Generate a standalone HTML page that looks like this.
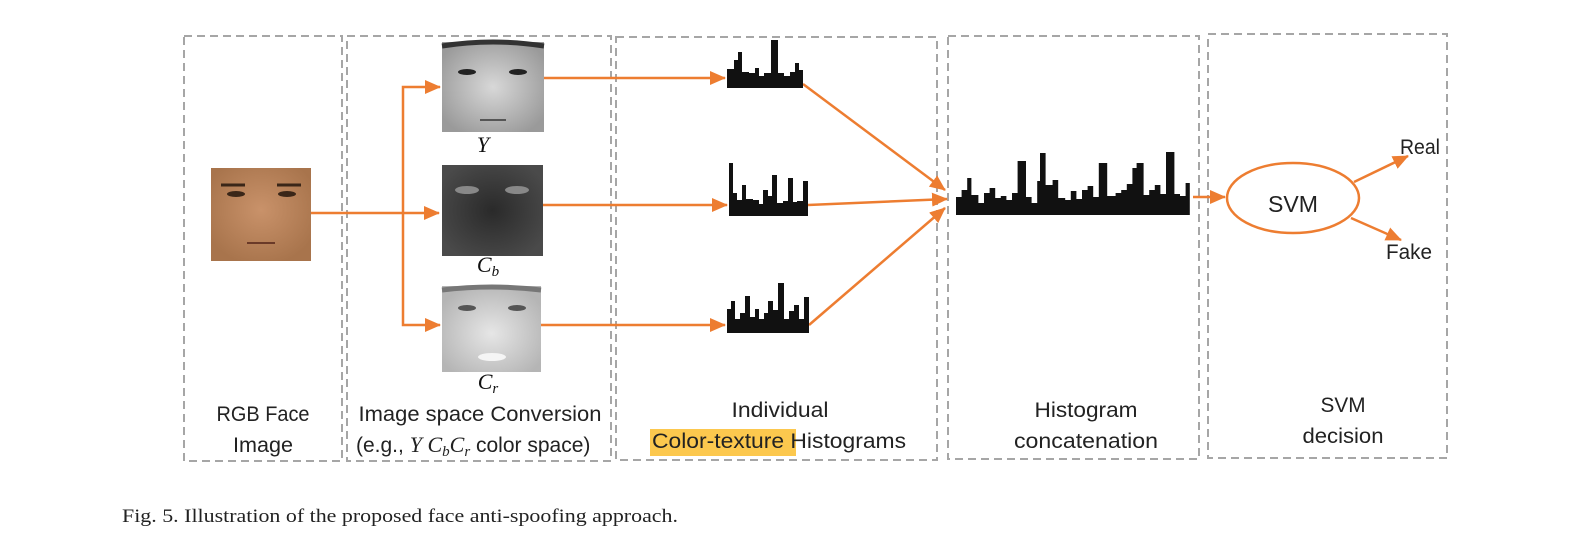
<!DOCTYPE html>
<html><head><meta charset="utf-8"><style>
html,body{margin:0;padding:0;background:#fff;}
svg{display:block;}
.s{font-family:"Liberation Sans",sans-serif;}
.m{font-family:"Liberation Serif",serif;font-style:italic;}
</style></head><body>
<svg width="1584" height="554" viewBox="0 0 1584 554" xmlns="http://www.w3.org/2000/svg">
<defs>
<radialGradient id="gO" cx="50%" cy="45%" r="60%"><stop offset="0" stop-color="#c9926a"/><stop offset="1" stop-color="#a8744c"/></radialGradient>
<radialGradient id="gY" cx="50%" cy="50%" r="60%"><stop offset="0" stop-color="#d8d8d8"/><stop offset="1" stop-color="#9a9a9a"/></radialGradient>
<radialGradient id="gB" cx="50%" cy="50%" r="60%"><stop offset="0" stop-color="#2a2a2a"/><stop offset="1" stop-color="#4a4a4a"/></radialGradient>
<radialGradient id="gR" cx="50%" cy="55%" r="60%"><stop offset="0" stop-color="#e6e6e6"/><stop offset="1" stop-color="#b5b5b5"/></radialGradient>
<marker id="ah2" markerWidth="16" markerHeight="14" refX="15" refY="7" orient="auto" markerUnits="userSpaceOnUse"><path d="M0,0 L16,7 L0,14 Z" fill="#ed7d31"/></marker>
</defs>
<g fill="none" stroke="#a6a6a6" stroke-width="2" stroke-dasharray="8,5">
<rect x="184" y="36" width="158" height="425"/>
<rect x="347" y="36" width="264" height="425"/>
<rect x="616" y="37" width="321" height="423"/>
<rect x="948" y="36" width="251" height="423"/>
<rect x="1208" y="34" width="239" height="424"/>
</g>
<g>
<rect x="211" y="168" width="100" height="93" fill="url(#gO)"/>
<ellipse cx="236" cy="194" rx="9" ry="3" fill="#3a2618"/><ellipse cx="287" cy="194" rx="9" ry="3" fill="#3a2618"/>
<path d="M221,185 h24 M277,185 h24" stroke="#3a2618" stroke-width="3"/>
<path d="M247,243 h28" stroke="#6a3a28" stroke-width="2"/>
<rect x="442" y="42" width="102" height="90" fill="url(#gY)"/>
<path d="M442,46 q51,-8 102,0" stroke="#333" stroke-width="5" fill="none"/>
<ellipse cx="467" cy="72" rx="9" ry="3" fill="#222"/><ellipse cx="518" cy="72" rx="9" ry="3" fill="#222"/>
<path d="M480,120 h26" stroke="#555" stroke-width="2"/>
<rect x="442" y="165" width="101" height="91" fill="url(#gB)"/>
<ellipse cx="467" cy="190" rx="12" ry="4" fill="#888"/><ellipse cx="517" cy="190" rx="12" ry="4" fill="#888"/>
<rect x="442" y="286" width="99" height="86" fill="url(#gR)"/>
<path d="M442,290 q50,-6 99,0" stroke="#777" stroke-width="5" fill="none"/>
<ellipse cx="467" cy="308" rx="9" ry="3" fill="#555"/><ellipse cx="517" cy="308" rx="9" ry="3" fill="#555"/>
<ellipse cx="492" cy="357" rx="14" ry="4" fill="#f5f5f5"/>
</g>
<g stroke="#ed7d31" stroke-width="2.5" fill="none">
<path d="M311,213 H439" marker-end="url(#ah2)"/>
<path d="M403,213 V87 H440" marker-end="url(#ah2)"/>
<path d="M403,213 V325 H440" marker-end="url(#ah2)"/>
<path d="M544,78 H725" marker-end="url(#ah2)"/>
<path d="M543,205 H727" marker-end="url(#ah2)"/>
<path d="M541,325 H725" marker-end="url(#ah2)"/>
<path d="M803,84 L945,190" marker-end="url(#ah2)"/>
<path d="M808,205 L947,199" marker-end="url(#ah2)"/>
<path d="M809,325 L945,208" marker-end="url(#ah2)"/>
<path d="M1193,197 H1225" marker-end="url(#ah2)"/>
<ellipse cx="1293" cy="198" rx="66" ry="35"/>
<path d="M1354,182 L1408,156" marker-end="url(#ah2)"/>
<path d="M1351,218 L1401,240" marker-end="url(#ah2)"/>
</g>
<g fill="#111">
<path transform="translate(7,0)" d="M720,88 V69 H727 V60 H731 V52 H735 V72 H742 V73 H748 V68 H752 V76 H757 V73 H764 V40 H771 V73 H777 V76 H783 V72 H788 V63 H792 V70 H796 V88 Z"/>
<path transform="translate(7,3)" d="M722,213 V160 H726 V190 H730 V197 H735 V182 H739 V196 H746 V197 H752 V201 H756 V187 H761 V193 H765 V172 H770 V200 H776 V198 H781 V175 H786 V199 H790 V198 H796 V178 H801 V213 Z"/>
<path transform="translate(9,1)" d="M718,332 V308 H722 V300 H726 V318 H731 V312 H736 V295 H741 V316 H746 V308 H750 V318 H755 V312 H759 V300 H764 V309 H769 V282 H775 V318 H780 V310 H785 V304 H790 V318 H795 V296 H800 V332 Z"/>
<path transform="translate(956,0) scale(1.4,1) translate(-946,0)" d="M946,215 V197 H950 V190 H954 V178 H957 V195 H962 V203 H966 V193 H970 V188 H974 V198 H978 V196 H982 V200 H986 V193 H990 V161 H996 V197 H1000 V203 H1004 V181 H1006 V153 H1010 V185 H1015 V180 H1019 V198 H1024 V200 H1028 V191 H1032 V199 H1036 V190 H1040 V186 H1044 V197 H1048 V163 H1054 V196 H1060 V193 H1064 V190 H1068 V184 H1072 V168 H1075 V163 H1080 V195 H1084 V190 H1088 V185 H1092 V194 H1096 V152 H1102 V194 H1106 V196 H1110 V183 H1113 V215 Z"/>
</g>
<rect x="650" y="429" width="146" height="27" fill="#fcc84e"/>
<g class="s" font-size="21" fill="#222" text-anchor="middle">
<text x="263" y="421" textLength="93" lengthAdjust="spacingAndGlyphs">RGB Face</text>
<text x="263" y="452" textLength="60" lengthAdjust="spacingAndGlyphs">Image</text>
<text x="480" y="421" textLength="243" lengthAdjust="spacingAndGlyphs">Image space Conversion</text>
<text x="780" y="417" textLength="97" lengthAdjust="spacingAndGlyphs">Individual</text>
<text x="779" y="448" textLength="254" lengthAdjust="spacingAndGlyphs">Color-texture Histograms</text>
<text x="1086" y="417" textLength="103" lengthAdjust="spacingAndGlyphs">Histogram</text>
<text x="1086" y="448" textLength="144" lengthAdjust="spacingAndGlyphs">concatenation</text>
<text x="1343" y="412" textLength="45" lengthAdjust="spacingAndGlyphs">SVM</text>
<text x="1343" y="443" textLength="81" lengthAdjust="spacingAndGlyphs">decision</text>
<text x="1293" y="212" font-size="23" textLength="50" lengthAdjust="spacingAndGlyphs">SVM</text>
<text x="1420" y="154" textLength="40" lengthAdjust="spacingAndGlyphs">Real</text>
<text x="1409" y="259" textLength="46" lengthAdjust="spacingAndGlyphs">Fake</text>
</g>
<text class="s" x="356" y="452" font-size="21" fill="#222">(e.g., <tspan class="m" font-size="22">Y C</tspan><tspan class="m" font-size="15" dy="4">b</tspan><tspan class="m" font-size="22" dy="-4">C</tspan><tspan class="m" font-size="15" dy="4">r</tspan><tspan dy="-4"> color space)</tspan></text>
<g class="m" font-size="22" fill="#111" text-anchor="middle">
<text x="483" y="152">Y</text>
<text x="488" y="272">C<tspan font-size="15" dy="4">b</tspan></text>
<text x="488" y="389">C<tspan font-size="15" dy="4">r</tspan></text>
</g>
<text x="122" y="522" style="font-family:'Liberation Serif',serif" font-size="19" fill="#222" textLength="556" lengthAdjust="spacingAndGlyphs">Fig. 5.  Illustration of the proposed face anti-spoofing approach.</text>
</svg>
</body></html>
